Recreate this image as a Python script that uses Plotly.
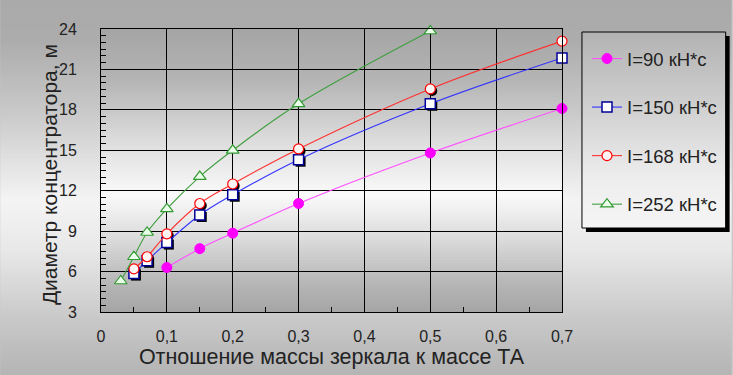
import plotly.graph_objects as go

# ---------------- data ----------------
x_90 = [0.1, 0.15, 0.2, 0.3, 0.5, 0.7]
y_90 = [6.3, 7.7, 8.85, 11.05, 14.8, 18.1]
x_150 = [0.05, 0.07, 0.1, 0.15, 0.2, 0.3, 0.5, 0.7]
y_150 = [5.85, 6.8, 8.15, 10.2, 11.7, 14.3, 18.45, 21.85]
x_168 = [0.05, 0.07, 0.1, 0.15, 0.2, 0.3, 0.5, 0.7]
y_168 = [6.2, 7.1, 8.8, 11.05, 12.5, 15.1, 19.55, 23.1]
x_252 = [0.03, 0.05, 0.07, 0.1, 0.15, 0.2, 0.3, 0.5]
y_252 = [5.3, 7.1, 8.9, 10.65, 13.05, 15.0, 18.45, 23.85]

names = ["I=90 кН*с", "I=150 кН*с", "I=168 кН*с", "I=252 кН*с"]
x_ticks = [0, 0.1, 0.2, 0.3, 0.4, 0.5, 0.6, 0.7]
x_ticktext = ["0", "0,1", "0,2", "0,3", "0,4", "0,5", "0,6", "0,7"]
y_ticks = [3, 6, 9, 12, 15, 18, 21, 24]
x_title = "Отношение массы зеркала к массе ТА"
y_title = "Диаметр концентратора, м"

# ---------------- geometry ----------------
W, H = 733, 375
L, R, T, B = 101, 563, 29, 312
XMIN, XMAX, YMIN, YMAX = 0, 0.7, 3, 24
FONT = "Liberation Sans, Arial, sans-serif"


def xp(px):
    return (px - L) / (R - L)


def yp(py):
    return (B - py) / (B - T)


def lerp_color(stops, v):
    for (p0, c0), (p1, c1) in zip(stops, stops[1:]):
        if p0 <= v <= p1:
            t = 0 if p1 == p0 else (v - p0) / (p1 - p0)
            g = round(c0 + (c1 - c0) * t)
            return f"rgb({g},{g},{g})"
    g = stops[-1][1] if v > stops[-1][0] else stops[0][1]
    return f"rgb({g},{g},{g})"


def gradient(x0, x1, y0, y1, stops, step=3, layer="below"):
    out = []
    y = y0
    while y < y1:
        yb = min(y + step, y1)
        out.append(dict(type="rect", xref="paper", yref="paper",
                        x0=xp(x0), x1=xp(x1), y0=yp(yb), y1=yp(y),
                        fillcolor=lerp_color(stops, (y + yb) / 2),
                        line=dict(width=0), layer=layer))
        y = yb
    return out


shapes = []
# figure background
shapes += gradient(0, W, 0, H, [(0, 170), (40, 172), (110, 200), (200, 244),
                                (250, 232), (320, 200), (375, 180)])
# plot area
shapes += gradient(L, R, T, B, [(29, 165), (80, 180), (140, 220), (195, 250),
                                (240, 218), (280, 185), (312, 164)])
# legend shadow + box
LX0, LX1, LY0, LY1 = 583, 727, 32, 228
shapes.append(dict(type="rect", xref="paper", yref="paper",
                   x0=xp(LX0 + 4), x1=xp(LX1 + 4), y0=yp(LY1 + 4), y1=yp(LY0 + 4),
                   fillcolor="black", line=dict(width=0), layer="below"))
shapes += gradient(LX0, LX1, LY0, LY1, [(32, 178), (100, 205), (180, 238), (228, 245)],
                   step=2)
shapes.append(dict(type="rect", xref="paper", yref="paper",
                   x0=xp(LX0), x1=xp(LX1), y0=yp(LY1), y1=yp(LY0),
                   fillcolor="rgba(0,0,0,0)", line=dict(color="black", width=1),
                   layer="below"))

fig = go.Figure()

# shadow layer (base axes with ranges shifted 2px right/down)
dx = (XMAX - XMIN) / (R - L)
dy = (YMAX - YMIN) / (B - T)
for xs, ys, sym in [(x_150, y_150, "square"), (x_168, y_168, "circle")]:
    fig.add_trace(go.Scatter(x=xs, y=ys, mode="markers", xaxis="x", yaxis="y",
                             marker=dict(symbol=sym, size=10, color="black"),
                             showlegend=False, hoverinfo="skip", cliponaxis=False))

styles = [
    (x_90, y_90, "#ff50ff", dict(symbol="circle", size=10, color="#ff00ff",
                                 line=dict(color="#ff00ff", width=1))),
    (x_150, y_150, "#3333ff", dict(symbol="square", size=10, color="white",
                                   line=dict(color="#000099", width=1.5))),
    (x_168, y_168, "#ff3030", dict(symbol="circle", size=10, color="#fff4f4",
                                   line=dict(color="#ff0000", width=1.2))),
    (x_252, y_252, "#3f9f3f", dict(symbol="triangle-up", size=11, color="#eaffea",
                                   line=dict(color="#339933", width=1.2))),
]
for i, (xs, ys, lc, mk) in enumerate(styles):
    fig.add_trace(go.Scatter(x=xs, y=ys, mode="lines+markers", name=names[i],
                             xaxis="x2", yaxis="y2",
                             line=dict(color=lc, width=1.1, shape="spline", smoothing=1),
                             marker=mk, legendgroup=str(i), cliponaxis=False))

fig.update_layout(
    width=W, height=H,
    margin=dict(l=L, r=W - R, t=T, b=H - B, pad=0),
    paper_bgcolor="rgb(200,200,200)",
    plot_bgcolor="rgba(0,0,0,0)",
    separators=", ",
    font=dict(family=FONT, size=15, color="#222222"),
    shapes=shapes,
    xaxis=dict(range=[XMIN - 2 * dx, XMAX - 2 * dx], visible=False, fixedrange=True),
    yaxis=dict(range=[YMIN + 2 * dy, YMAX + 2 * dy], visible=False, fixedrange=True),
    xaxis2=dict(overlaying="x", range=[XMIN, XMAX], tickvals=x_ticks, ticktext=x_ticktext,
                showgrid=True, gridcolor="black", gridwidth=1,
                showline=True, linecolor="black", linewidth=1, mirror=True,
                ticks="inside", ticklen=5, tickcolor="black",
                minor=dict(dtick=0.05, ticks="inside", ticklen=5, tickcolor="black",
                           showgrid=False),
                tickfont=dict(family=FONT, size=16, color="#222222"),
                ticklabelstandoff=10, zeroline=False,
                title=dict(text=x_title, font=dict(family=FONT, size=21.5, color="#222222"),
                           standoff=2)),
    yaxis2=dict(overlaying="y", range=[YMIN, YMAX], tickvals=y_ticks,
                showgrid=True, gridcolor="black", gridwidth=1,
                showline=True, linecolor="black", linewidth=1, mirror=True,
                ticks="inside", ticklen=5, tickcolor="black",
                minor=dict(dtick=0.5, ticks="inside", ticklen=5, tickcolor="black",
                           showgrid=False),
                tickfont=dict(family=FONT, size=16, color="#222222"),
                ticklabelstandoff=20, zeroline=False),
    annotations=[dict(text=y_title, xref="paper", yref="paper",
                      x=xp(49), y=yp(175), xanchor="center", yanchor="middle",
                      textangle=-90, showarrow=False,
                      font=dict(family=FONT, size=21, color="#222222"))],
    legend=dict(x=xp(587), y=yp(40), xanchor="left", yanchor="top",
                bgcolor="rgba(0,0,0,0)", borderwidth=0,
                font=dict(family=FONT, size=18.5, color="#222222"),
                traceorder="grouped", tracegroupgap=21.5, itemwidth=30),
    showlegend=True,
)

fig.write_html("out.html", config={"displayModeBar": False},
               post_script="document.body.style.margin='0px';document.body.style.padding='0px';")
